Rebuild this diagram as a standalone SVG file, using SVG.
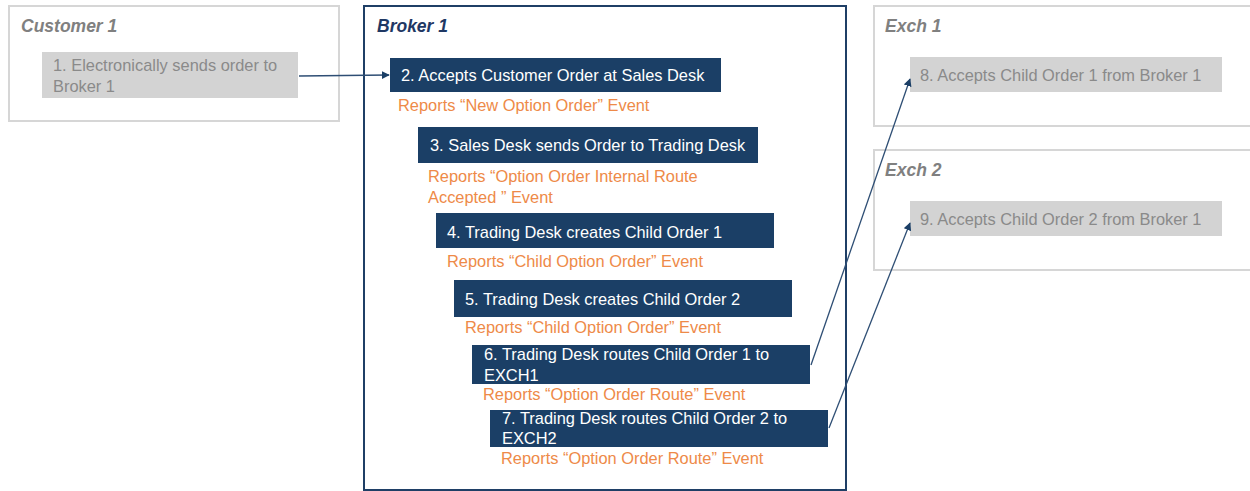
<svg xmlns="http://www.w3.org/2000/svg" width="1250" height="491" viewBox="0 0 1250 491">
<style>
text{font-family:"Liberation Sans",Arial,sans-serif}
.frame{fill:#fff;stroke:#d6d6d6;stroke-width:2}
.bframe{fill:#fff;stroke:#1f3f66;stroke-width:2}
.title{font-size:17.5px;font-weight:bold;font-style:italic;fill:#808080}
.btitle{font-size:17.5px;font-weight:bold;font-style:italic;fill:#1f3864}
.gbox{fill:#d3d3d3}
.gtext{font-size:16.4px;fill:#8a8a8a}
.dbox{fill:#1b3f66}
.dtext{font-size:16.4px;fill:#fff}
.rep{font-size:16.4px;fill:#ee8a48}
.conn{stroke:#2e4e74;stroke-width:1.3;fill:none;marker-end:url(#ah)}
</style>
<defs>
<marker id="ah" viewBox="0 0 10 10" refX="9" refY="5" markerWidth="8" markerHeight="8" markerUnits="userSpaceOnUse" orient="auto">
<path d="M0,0 L10,5 L0,10 z" fill="#1b3f66"/>
</marker>
</defs>
<rect width="1250" height="491" fill="#fff"/>
<g id="customer1">
<rect class="frame" x="9" y="6" width="330" height="115"/>
<text class="title" x="21" y="32">Customer 1</text>
</g>
<g id="broker1">
<rect class="bframe" x="364" y="6" width="482" height="484"/>
<text class="btitle" x="377" y="32">Broker 1</text>
</g>
<g id="exch1">
<rect class="frame" x="874" y="6" width="380" height="120"/>
<text class="title" x="885" y="32">Exch 1</text>
</g>
<g id="exch2">
<rect class="frame" x="874" y="150" width="380" height="120"/>
<text class="title" x="885" y="176">Exch 2</text>
</g>
<g id="n1">
<rect class="gbox" x="42" y="52" width="256" height="46"/>
<text class="gtext" x="53" y="71">1. Electronically sends order to</text>
<text class="gtext" x="53" y="92">Broker 1</text>
</g>
<g id="n2">
<rect class="dbox" x="390" y="58" width="331" height="34"/>
<text class="dtext" x="401" y="81">2. Accepts Customer Order at Sales Desk</text>
<text class="rep" x="398" y="111">Reports “New Option Order” Event</text>
</g>
<g id="n3">
<rect class="dbox" x="418" y="127" width="340" height="36"/>
<text class="dtext" x="430" y="151">3. Sales Desk sends Order to Trading Desk</text>
<text class="rep" x="428" y="182">Reports “Option Order Internal Route</text>
<text class="rep" x="428" y="203">Accepted ” Event</text>
</g>
<g id="n4">
<rect class="dbox" x="436" y="213" width="338" height="35"/>
<text class="dtext" x="447" y="238">4. Trading Desk creates Child Order 1</text>
<text class="rep" x="447" y="267">Reports “Child Option Order” Event</text>
</g>
<g id="n5">
<rect class="dbox" x="454" y="280" width="338" height="37"/>
<text class="dtext" x="465" y="305">5. Trading Desk creates Child Order 2</text>
<text class="rep" x="465" y="333">Reports “Child Option Order” Event</text>
</g>
<g id="n6">
<rect class="dbox" x="472" y="345" width="338" height="39"/>
<text class="dtext" x="484" y="360">6. Trading Desk routes Child Order 1 to</text>
<text class="dtext" x="484" y="381">EXCH1</text>
<text class="rep" x="483" y="400">Reports “Option Order Route” Event</text>
</g>
<g id="n7">
<rect class="dbox" x="490" y="410" width="338" height="37"/>
<text class="dtext" x="502" y="424">7. Trading Desk routes Child Order 2 to</text>
<text class="dtext" x="502" y="444">EXCH2</text>
<text class="rep" x="501" y="464">Reports “Option Order Route” Event</text>
</g>
<g id="n8">
<rect class="gbox" x="910" y="57" width="312" height="35"/>
<text class="gtext" x="920" y="81">8. Accepts Child Order 1 from Broker 1</text>
</g>
<g id="n9">
<rect class="gbox" x="910" y="201" width="312" height="35"/>
<text class="gtext" x="920" y="225">9. Accepts Child Order 2 from Broker 1</text>
</g>
<g id="connectors">
<path class="conn" d="M299,76 L389,75"/>
<path class="conn" d="M811,365 L910,79"/>
<path class="conn" d="M829,428 L910,223"/>
</g>
</svg>
